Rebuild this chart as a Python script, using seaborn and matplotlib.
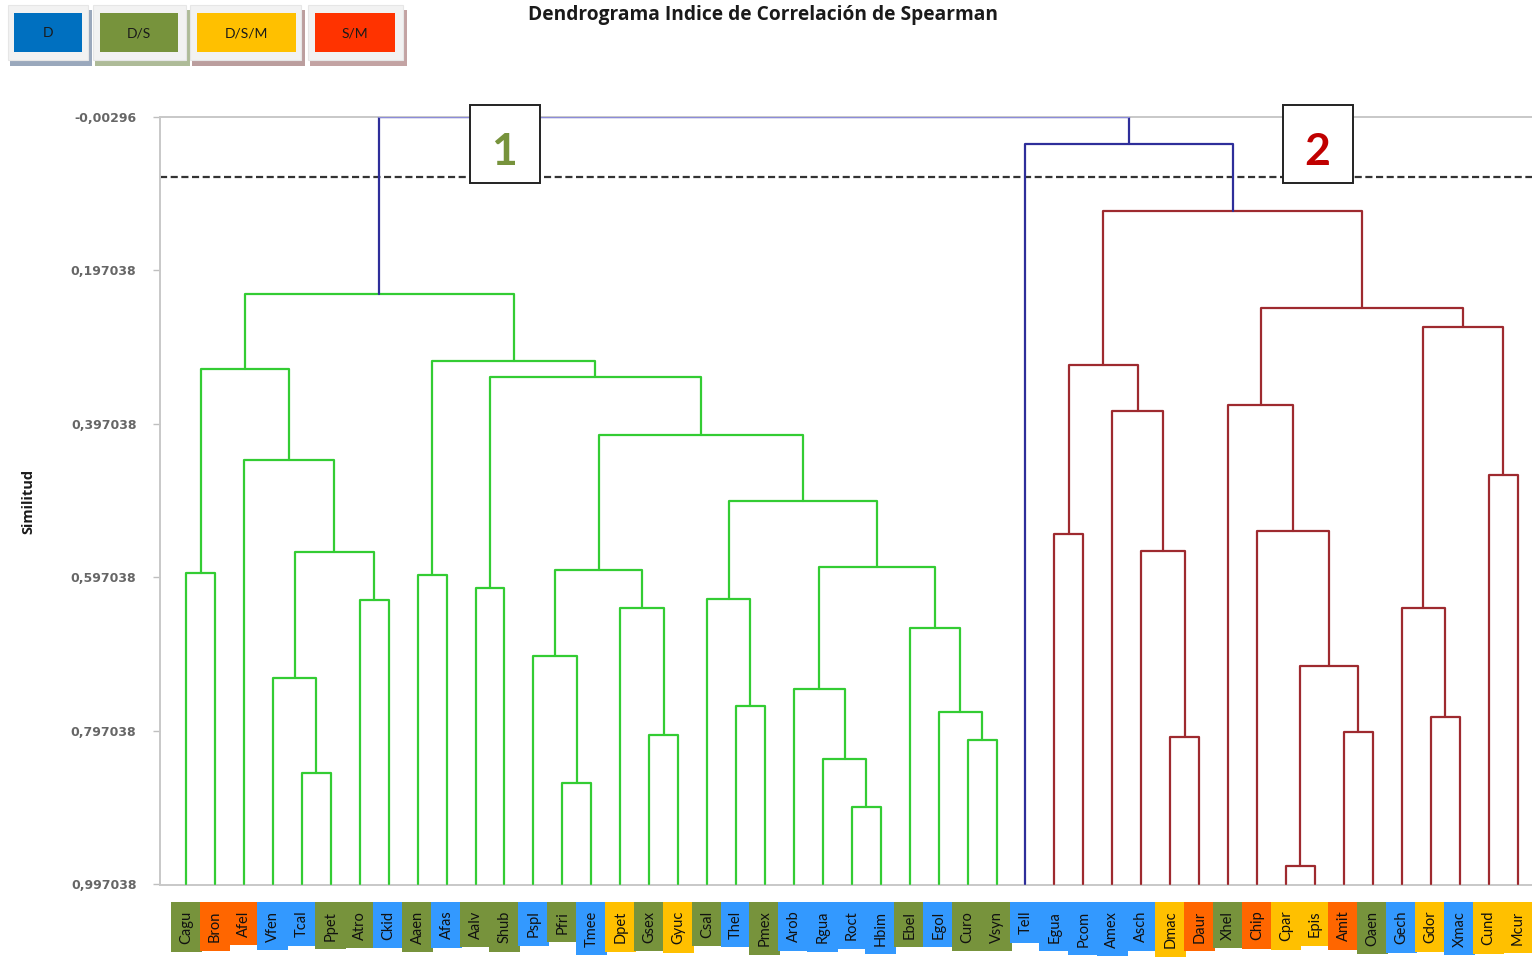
import numpy as np
import pandas as pd
import matplotlib
matplotlib.use("Agg")
import matplotlib.pyplot as plt
from matplotlib.patches import Rectangle
import seaborn as sns

# Taxa in dendrogram order and the habitat class of each one
leaves = ["Cagu", "Bron", "Afel", "Vfen", "Tcal", "Ppet", "Atro", "Ckid", "Aaen", "Afas",
          "Aalv", "Shub", "Pspl", "Pfri", "Tmee", "Dpet", "Gsex", "Gyuc", "Csal", "Thel",
          "Pmex", "Arob", "Rgua", "Roct", "Hbim", "Ebel", "Egol", "Curo", "Vsyn",
          "Tell", "Egua", "Pcom", "Amex", "Asch", "Dmac", "Daur", "Xhel", "Chip", "Cpar",
          "Epis", "Amit", "Oaen", "Gech", "Gdor", "Xmac", "Cund", "Mcur"]
leaf_class = ["D/S", "S/M", "S/M", "D", "D", "D/S", "D/S", "D", "D/S", "D",
              "D/S", "D/S", "D", "D/S", "D", "D/S/M", "D/S", "D/S/M", "D/S", "D",
              "D/S", "D", "D", "D", "D", "D/S", "D", "D/S", "D/S",
              "D", "D", "D", "D", "D", "D/S/M", "S/M", "D/S", "S/M", "D/S/M",
              "D/S/M", "S/M", "D/S", "D", "D/S/M", "D", "D/S/M", "D/S/M"]

# Agglomeration steps: node id, the two joined nodes, similarity level, branch group
merge_id = ["c1", "c2", "c3", "c4", "c5", "c6", "c7", "c8", "c9", "c10",
            "c11", "c12", "c13", "c14", "c15", "c16", "c17", "c18", "c19", "c20",
            "c21", "c22", "c23", "c24", "c25", "c26", "c27", "c28",
            "d1", "d2", "d3", "d4", "d5", "d6", "d7", "d8", "d9", "d10",
            "d11", "d12", "d13", "d14", "d15", "d16", "d17", "root"]
merge_left = ["Cagu", "Tcal", "Vfen", "Atro", "c3", "Afel", "c1", "Aaen", "Aalv", "Pfri",
              "Pspl", "Gsex", "Dpet", "c11", "Thel", "Csal", "Roct", "Rgua", "Arob", "Curo",
              "Egol", "Ebel", "c19", "c16", "c14", "c9", "c8", "c7",
              "Egua", "Dmac", "Asch", "Amex", "d1", "Cpar", "Amit", "d6", "Chip", "Xhel",
              "Gdor", "Gech", "Cund", "d12", "d10", "d5", "Tell", "c28"]
merge_right = ["Bron", "Ppet", "c2", "Ckid", "c4", "c5", "c6", "Afas", "Shub", "Tmee",
               "c10", "Gyuc", "c12", "c13", "Pmex", "c15", "Hbim", "c17", "c18", "Vsyn",
               "c20", "c21", "c22", "c23", "c24", "c25", "c26", "c27",
               "Pcom", "Daur", "d2", "d3", "d4", "Epis", "Oaen", "d7", "d8", "d9",
               "Xmac", "d11", "Mcur", "d13", "d14", "d15", "d16", "d17"]
merge_height = [0.592, 0.852, 0.729, 0.627, 0.564, 0.444, 0.326, 0.594, 0.611, 0.865,
                0.700, 0.803, 0.637, 0.588, 0.765, 0.625, 0.897, 0.834, 0.743, 0.809,
                0.773, 0.663, 0.584, 0.498, 0.412, 0.336, 0.315, 0.228,
                0.541, 0.805, 0.563, 0.380, 0.320, 0.974, 0.799, 0.713, 0.537, 0.372,
                0.779, 0.637, 0.464, 0.271, 0.246, 0.120, 0.032, -0.00296]
merge_group = ["g1"] * 28 + ["g2"] * 16 + ["top", "top"]

y_ticks = [-0.00296, 0.197038, 0.397038, 0.597038, 0.797038, 0.997038]
y_tick_labels = ["-0,00296", "0,197038", "0,397038", "0,597038", "0,797038", "0,997038"]
cut_level = 0.0753
class_names = ["D", "D/S", "D/S/M", "S/M"]

legend_colors = {"D": "#0070c0", "D/S": "#77933c", "D/S/M": "#ffc000", "S/M": "#ff3300"}
legend_shadow = {"D": "#9aa8bc", "D/S": "#aebb98", "D/S/M": "#bb9e9e", "S/M": "#c3a3a3"}
label_colors = {"D": "#3399ff", "D/S": "#77933c", "D/S/M": "#ffc000", "S/M": "#ff6600"}
link_palette = {"g1": "#33cc33", "g2": "#9e2a2f", "top": "#2e2e9a"}

sns.set_style("white")
plt.rcParams["font.family"] = ["Lato", "DejaVu Sans"]

W, H = 1532, 958
fig = plt.figure(figsize=(W / 100, H / 100), dpi=100)


def fx(px):
    return px / W


def fy(py):
    return 1 - py / H


base = y_ticks[-1]
ax = fig.add_axes([fx(160), fy(885), fx(1532) - fx(160), fy(117) - fy(885)])

# Build the U-shaped links from the merge table
pos = {name: float(i) for i, name in enumerate(leaves)}
lev = {name: base for name in leaves}
rows = []
for mid, l, r, h, g in zip(merge_id, merge_left, merge_right, merge_height, merge_group):
    xl, xr = pos[l], pos[r]
    for k, (x, y) in enumerate([(xl, lev[l]), (xl, h), (xr, h), (xr, lev[r])]):
        rows.append({"link": mid, "order": k, "x": x, "y": y, "grp": g})
    pos[mid] = (xl + xr) / 2
    lev[mid] = h
links = pd.DataFrame(rows)

sns.lineplot(data=links, x="x", y="y", units="link", hue="grp", palette=link_palette,
             estimator=None, sort=False, legend=False, linewidth=1.6, ax=ax, zorder=3)

# Top junction drawn in a lighter tone
root = links[(links["link"] == "root") & (links["order"].isin([1, 2]))]
ax.plot(root["x"], root["y"], color="#8c8cd8", lw=1.6, zorder=4)

ax.axhline(cut_level, color="#333333", lw=1.6, ls=(0, (3.2, 1.6)), zorder=2)

ax.set_xlim(-0.9, len(leaves) - 0.5)
ax.set_ylim(0.9985, -0.00296)
ax.set_yticks(y_ticks)
ax.set_yticklabels(y_tick_labels, family="DejaVu Sans", fontweight="bold")
ax.set_xticks([])
ax.tick_params(axis="y", left=True, length=5, width=1, color="#bfbfbf", pad=12,
               labelsize=9, labelcolor="#666666")
for side in ["top", "bottom", "left"]:
    ax.spines[side].set_color("#c8c8c8")
    ax.spines[side].set_linewidth(1.4)
ax.spines["right"].set_visible(False)
ax.set_xlabel("")
ax.set_ylabel("Similitud", fontsize=10.5, fontweight="bold", color="#1a1a1a",
              family="Open Sans")
ax.yaxis.set_label_coords((35 - 160) / 1372, 0.5)

# Taxon labels on coloured tags below the axis
for i, (name, cls) in enumerate(zip(leaves, leaf_class)):
    ax.text(i, -0.0335, name, rotation=90, ha="center", va="top", fontsize=10.5,
            color="#111111", transform=ax.get_xaxis_transform(), clip_on=False,
            bbox=dict(boxstyle="square,pad=0.58", facecolor=label_colors[cls],
                      edgecolor="none"))

# Group markers
for num, x0, col in [("1", 470, "#77933c"), ("2", 1283, "#c00000")]:
    fig.patches.append(Rectangle((fx(x0), fy(183)), fx(70), fy(105) - fy(183),
                                 transform=fig.transFigure, facecolor="white",
                                 edgecolor="#222222", lw=1.4, zorder=5))
    fig.text(fx(x0 + 34), fy(152), num, ha="center", va="center", fontsize=32,
             fontweight="bold", color=col, zorder=6)

# Class legend
legend_boxes = [(8, 90, 14, 82), (93, 188, 100, 178), (190, 303, 197, 296), (308, 405, 315, 395)]
for cls, (ox0, ox1, ix0, ix1) in zip(class_names, legend_boxes):
    fig.patches.append(Rectangle((fx(ox0 + 2), fy(66)), fx(ox1 - ox0), fy(10) - fy(66),
                                 transform=fig.transFigure, facecolor=legend_shadow[cls],
                                 edgecolor="none", zorder=1))
    fig.patches.append(Rectangle((fx(ox0), fy(60)), fx(ox1 - ox0 - 2), fy(5) - fy(60),
                                 transform=fig.transFigure, facecolor="#f2f2f2",
                                 edgecolor="#e6e6e6", lw=0.8, zorder=2))
    fig.patches.append(Rectangle((fx(ix0), fy(52)), fx(ix1 - ix0), fy(13) - fy(52),
                                 transform=fig.transFigure, facecolor=legend_colors[cls],
                                 edgecolor="none", zorder=3))
    fig.text(fx((ix0 + ix1) / 2), fy(33), cls, ha="center", va="center", fontsize=10,
             color="#1a1a1a", zorder=4)

fig.text(fx(763), fy(15), "Dendrograma Indice de Correlación de Spearman",
         ha="center", va="center", fontsize=13.8, fontweight="bold", color="#1a1a1a",
         family="Open Sans")

fig.savefig("out.png", dpi=100)
